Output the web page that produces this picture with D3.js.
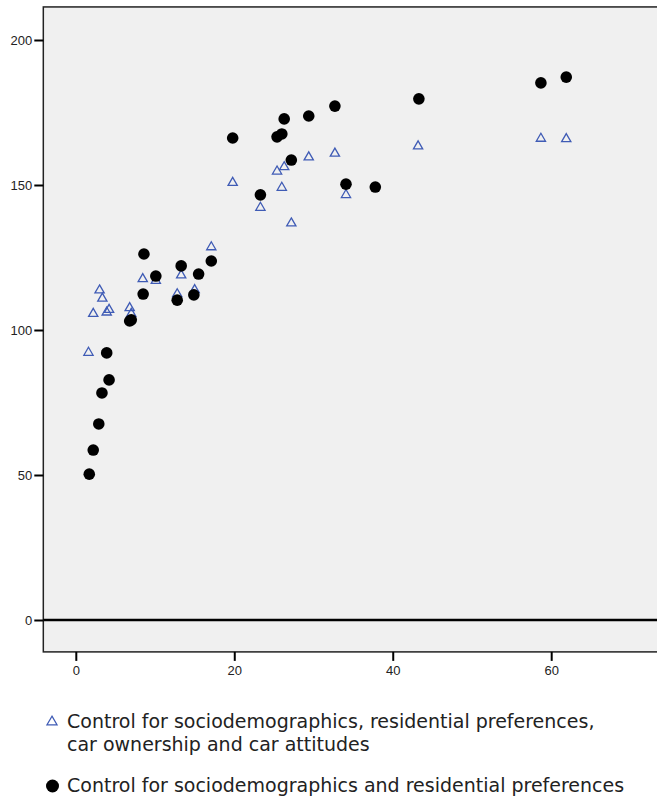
<!DOCTYPE html>
<html>
<head>
<meta charset="utf-8">
<script src="https://cdn.jsdelivr.net/npm/d3@7"></script>
<style>
  body { margin: 0; background: #fff; }
  svg { display: block; }
  .tick text { font-family: "Liberation Sans", Arial, sans-serif; font-size: 13px; fill: #222; }
  .legend text { font-family: "DejaVu Sans", sans-serif; font-size: 19px; fill: #222; }
</style>
</head>
<body>
<div id="container"></div>
<script>
// triangles: control for sociodemographics, residential prefs, car ownership and car attitudes
var triX = [1.6, 2.2, 3.0, 3.35, 3.9, 4.2, 6.8, 7.0, 8.45, 10.1, 12.8, 13.3, 15.0, 17.1,
  19.8, 23.3, 25.4, 26.0, 26.3, 27.2, 29.4, 32.7, 34.1, 43.2, 58.7, 61.9];
var triY = [92.2, 105.6, 113.7, 110.9, 106.1, 107.0, 107.6, 105.6, 117.6, 117.0, 112.4, 118.9, 113.8, 128.6,
  150.8, 142.2, 154.7, 149.1, 156.2, 136.8, 159.6, 160.9, 146.6, 163.4, 166.0, 165.9];

// dots: control for sociodemographics and residential preferences
var dotX = [1.7, 2.2, 2.9, 3.3, 3.9, 4.2, 6.8, 7.0, 8.5, 8.6, 10.1, 12.8, 13.3, 14.9, 15.5, 17.1,
  19.8, 23.3, 25.4, 26.0, 26.3, 27.2, 29.4, 32.7, 34.1, 37.8, 43.3, 58.7, 61.9];
var dotY = [50.3, 58.6, 67.6, 78.3, 92.1, 82.8, 103.1, 103.5, 112.4, 126.2, 118.6, 110.3, 122.1, 112.1, 119.3, 123.8,
  166.2, 146.6, 166.6, 167.6, 172.8, 158.6, 173.8, 177.2, 150.3, 149.3, 179.7, 185.2, 187.2];

var xTicks = [0, 20, 40, 60];
var yTicks = [0, 50, 100, 150, 200];

var legendLabels = [
  ["Control for sociodemographics, residential preferences,", "car ownership and car attitudes"],
  ["Control for sociodemographics and residential preferences"]
];

var w = 657;
var h = 797;

var svg = d3.select("#container")
  .append("svg")
  .attr("width", w)
  .attr("height", h);

var xScale = d3.scaleLinear().domain([0, 60]).range([75.8, 551.2]);
var yScale = d3.scaleLinear().domain([0, 200]).range([620, 40]);

var plotLeft = xScale(-4.1);
var plotRight = w + 5;
var plotTop = yScale(211.4);
var plotBottom = yScale(-11);

// plot background + frame
svg.append("rect")
  .attr("x", plotLeft)
  .attr("y", plotTop)
  .attr("width", plotRight - plotLeft)
  .attr("height", plotBottom - plotTop)
  .attr("fill", "#f0f0f0")
  .attr("stroke", "#222")
  .attr("stroke-width", 1.5);

// zero line
svg.append("line")
  .attr("x1", plotLeft)
  .attr("x2", plotRight)
  .attr("y1", yScale(0))
  .attr("y2", yScale(0))
  .attr("stroke", "#000")
  .attr("stroke-width", 2.5);

// axes
var yAxis = d3.axisLeft(yScale).tickValues(yTicks).tickSize(9).tickPadding(2);
var gy = svg.append("g")
  .attr("transform", "translate(" + plotLeft + ",0)")
  .call(yAxis);
gy.select(".domain").remove();
gy.selectAll(".tick line").attr("stroke", "#000").attr("stroke-width", 2);

var xAxis = d3.axisBottom(xScale).tickValues(xTicks).tickSize(9).tickPadding(5);
var gx = svg.append("g")
  .attr("transform", "translate(0," + plotBottom + ")")
  .call(xAxis);
gx.select(".domain").remove();
gx.selectAll(".tick line").attr("stroke", "#000").attr("stroke-width", 2);

var tri = d3.symbol().type(d3.symbolTriangle).size(37);

// triangles first, dots drawn over them
svg.append("g")
  .selectAll("path")
  .data(triX)
  .enter()
  .append("path")
  .attr("d", tri)
  .attr("transform", (d, i) => "translate(" + xScale(d) + "," + yScale(triY[i]) + ")")
  .attr("fill", "none")
  .attr("stroke", "#3f5bb5")
  .attr("stroke-width", 1.3);

svg.append("g")
  .selectAll("circle")
  .data(dotX)
  .enter()
  .append("circle")
  .attr("cx", (d) => xScale(d))
  .attr("cy", (d, i) => yScale(dotY[i]))
  .attr("r", 5.8)
  .attr("fill", "#000");

// legend
var legend = svg.append("g").attr("class", "legend");

legend.append("path")
  .attr("d", d3.symbol().type(d3.symbolTriangle).size(45))
  .attr("transform", "translate(52,722)")
  .attr("fill", "none")
  .attr("stroke", "#3f5bb5")
  .attr("stroke-width", 1.2);

legend.append("circle")
  .attr("cx", 52.5)
  .attr("cy", 786)
  .attr("r", 6.5)
  .attr("fill", "#000");

var firstLabel = legend.append("text").attr("x", 67).attr("y", 728);
firstLabel.selectAll("tspan")
  .data(legendLabels[0])
  .enter()
  .append("tspan")
  .attr("x", 67)
  .attr("dy", (d, i) => (i === 0 ? 0 : 23))
  .text((d) => d);

legend.append("text")
  .attr("x", 67)
  .attr("y", 792)
  .text(legendLabels[1][0]);
</script>
</body>
</html>
